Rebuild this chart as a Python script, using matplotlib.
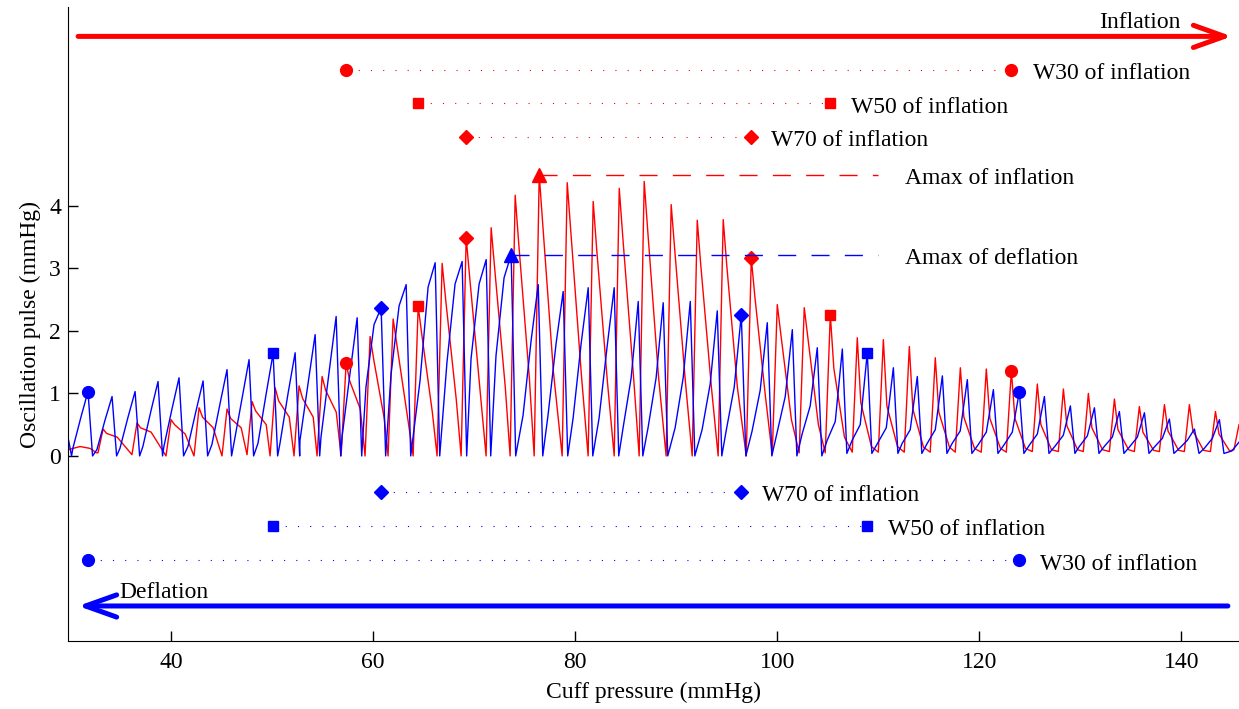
import matplotlib
matplotlib.use('Agg')
import matplotlib.pyplot as plt

plt.rcParams['font.family'] = ['Liberation Serif', 'DejaVu Serif']
plt.rcParams['font.size'] = 17

RED = '#ff0000'
BLUE = '#0000ff'

# ---- inflation (red) beats: peak position / height + shape levels ----
red_peak_x = [33.27, 36.63, 40.00, 42.77, 45.54, 48.02, 50.30, 52.67, 54.95, 57.33,
              59.70, 61.98, 64.46, 66.83, 69.21, 71.68, 74.06, 76.44, 79.21, 81.78,
              84.36, 86.83, 89.50, 92.08, 94.65, 97.43, 100.00, 102.67, 105.25, 107.92,
              110.50, 113.07, 115.64, 118.12, 120.69, 123.17, 125.74, 128.32, 130.79, 133.37,
              135.84, 138.32, 140.79, 143.37]
red_peak_y = [0.43, 0.53, 0.58, 0.77, 0.75, 0.87, 1.09, 1.12, 1.27, 1.49,
              1.91, 2.19, 2.39, 3.08, 3.49, 3.65, 4.17, 4.50, 4.37, 4.07,
              4.28, 4.39, 4.02, 3.77, 3.78, 3.16, 2.42, 2.37, 2.26, 1.89,
              1.86, 1.75, 1.57, 1.41, 1.39, 1.36, 1.15, 1.07, 1.00, 0.91,
              0.79, 0.82, 0.82, 0.71]
# level shortly after the peak
red_shoulder = [0.36, 0.45, 0.50, 0.62, 0.60, 0.72, 0.88, 0.92, 1.05, 1.20,
                1.55, 1.80, 1.95, 2.50, 2.85, 3.00, 3.40, 3.70, 3.60, 3.30,
                3.50, 3.60, 3.30, 3.05, 3.05, 2.55, 1.95, 1.90, 1.40, 0.85,
                0.80, 0.75, 0.70, 0.62, 0.60, 0.60, 0.50, 0.48, 0.45, 0.42,
                0.38, 0.40, 0.40, 0.35]
# level later in the decay
red_decay = [0.30, 0.38, 0.35, 0.45, 0.45, 0.50, 0.62, 0.62, 0.70, 0.75,
             0.60, 0.65, 0.70, 0.90, 1.00, 1.10, 1.25, 1.35, 1.30, 1.20,
             1.30, 1.30, 1.20, 1.10, 1.10, 0.95, 0.58, 0.50, 0.30, 0.15,
             0.15, 0.14, 0.14, 0.12, 0.12, 0.12, 0.10, 0.10, 0.10, 0.10,
             0.09, 0.09, 0.09, 0.08]
# level at the foot of the upstroke
red_foot = [0.05, 0.02, 0.00, 0.00, 0.00, 0.02, 0.00, 0.00, 0.00, 0.00,
            0.00, 0.00, 0.00, 0.00, 0.00, 0.00, 0.00, 0.00, 0.00, 0.00,
            0.00, 0.00, 0.00, 0.00, 0.00, 0.00, 0.02, 0.05, 0.05, 0.06,
            0.06, 0.06, 0.06, 0.06, 0.06, 0.06, 0.07, 0.07, 0.07, 0.07,
            0.07, 0.07, 0.07, 0.07]
red_lead_x = [29.8, 31.0, 32.0, 32.6]
red_lead_y = [0.10, 0.15, 0.12, 0.05]
red_trail_x = [145.2, 145.7]
red_trail_y = [0.10, 0.50]

# ---- deflation (blue) beats ----
blue_peak_x = [31.78, 34.16, 36.44, 38.71, 40.79, 43.17, 45.54, 47.72, 50.10, 52.28,
               54.26, 56.34, 58.42, 60.79, 63.27, 66.14, 68.81, 71.19, 73.66, 76.34,
               78.81, 81.29, 83.86, 86.24, 88.71, 91.39, 94.06, 96.44, 99.01, 101.49,
               103.96, 106.44, 108.91, 111.49, 113.86, 116.34, 118.81, 121.39, 123.96, 126.44,
               129.01, 131.39, 133.86, 136.34, 138.81, 141.29, 143.76]
blue_peak_y = [1.03, 0.95, 1.03, 1.19, 1.25, 1.20, 1.38, 1.54, 1.64, 1.65,
               1.94, 2.23, 2.21, 2.37, 2.74, 3.09, 3.11, 3.14, 3.22, 2.74,
               2.63, 2.69, 2.69, 2.47, 2.45, 2.47, 2.32, 2.26, 2.13, 2.02,
               1.73, 1.71, 1.65, 1.41, 1.27, 1.28, 1.22, 1.06, 1.03, 0.95,
               0.80, 0.77, 0.71, 0.69, 0.59, 0.43, 0.58]
# level just before the sharp upstroke
blue_shoulder = [0.62, 0.57, 0.62, 0.72, 0.75, 0.72, 0.83, 0.92, 0.98, 1.00,
                 1.16, 1.34, 1.33, 2.10, 2.40, 2.70, 2.75, 2.75, 2.85, 1.85,
                 1.80, 1.80, 1.75, 1.25, 1.25, 1.25, 1.15, 1.10, 1.05, 0.95,
                 0.80, 0.55, 0.50, 0.45, 0.42, 0.42, 0.40, 0.38, 0.38, 0.35,
                 0.33, 0.32, 0.30, 0.30, 0.28, 0.25, 0.28]
# level early in the slow ramp
blue_ramp = [0.12, 0.10, 0.12, 0.15, 0.15, 0.15, 0.18, 0.20, 0.20, 0.20,
             0.25, 0.30, 0.30, 1.10, 1.30, 1.20, 1.50, 1.55, 1.60, 0.65,
             0.65, 0.60, 0.60, 0.45, 0.45, 0.45, 0.42, 0.40, 0.40, 0.38,
             0.35, 0.25, 0.25, 0.22, 0.20, 0.20, 0.20, 0.18, 0.18, 0.17,
             0.16, 0.15, 0.15, 0.14, 0.14, 0.12, 0.12]
blue_trough = [0.0] * 31 + [0.04] * 16
blue_lead_x = [29.8, 30.15]
blue_lead_y = [0.30, 0.00]
blue_trail_x = [145.0, 145.7]
blue_trail_y = [0.08, 0.22]

# beat indices of the marked points
red_w30 = (9, 35)
red_w50 = (12, 28)
red_w70 = (14, 25)
red_amax = 17
blue_w30 = (0, 38)
blue_w50 = (8, 32)
blue_w70 = (13, 27)
blue_amax = 18

# rows of the annotation lines
red_rows = {'W30': 6.17, 'W50': 5.64, 'W70': 5.10}
blue_rows = {'W70': -0.58, 'W50': -1.12, 'W30': -1.67}
red_text_x = {'W30': 125.35, 'W50': 107.33, 'W70': 99.41}
blue_text_x = {'W70': 98.5, 'W50': 111.0, 'W30': 126.04}
amax_end_x = 110.0
amax_text_x = 112.67
text_drop = 0.06


def build_red():
    xs, ys = list(red_lead_x), list(red_lead_y)
    for i in range(len(red_peak_x)):
        p = red_peak_x[i]
        xs += [p - 0.5, p, p + 0.35, p + 1.4]
        ys += [red_foot[i], red_peak_y[i], red_shoulder[i], red_decay[i]]
    return xs + red_trail_x, ys + red_trail_y


def build_blue():
    xs, ys = list(blue_lead_x), list(blue_lead_y)
    for i in range(len(blue_peak_x)):
        p = blue_peak_x[i]
        xs += [p - 1.5, p - 0.7, p, p + 0.45]
        ys += [blue_ramp[i], blue_shoulder[i], blue_peak_y[i], blue_trough[i]]
    return xs + blue_trail_x, ys + blue_trail_y


fig = plt.figure(figsize=(12.39, 7.09), dpi=100)
ax = fig.add_axes([68 / 1239, 68 / 709, 1 - 68 / 1239, (641 - 7) / 709])

rx, ry = build_red()
bx, by = build_blue()
ax.plot(rx, ry, color=RED, lw=1.0)
ax.plot(bx, by, color=BLUE, lw=1.0)

dots = (0, (1, 10))
marks = {'W30': ('o', 8.5), 'W50': ('s', 7.5), 'W70': ('D', 7)}

# inflation markers and rows
for key, idx in (('W30', red_w30), ('W50', red_w50), ('W70', red_w70)):
    m, ms = marks[key]
    xl, xr = red_peak_x[idx[0]], red_peak_x[idx[1]]
    row = red_rows[key]
    ax.plot([xl, xr], [row, row], ls=dots, lw=0.8, color=RED)
    ax.plot([xl, xr], [row, row], ls='none', marker=m, ms=ms, color=RED)
    ax.plot([xl, xr], [red_peak_y[idx[0]], red_peak_y[idx[1]]], ls='none',
            marker=m, ms=ms, color=RED)
    ax.text(red_text_x[key], row - text_drop, key + ' of inflation', va='center', ha='left')

for key, idx in (('W30', blue_w30), ('W50', blue_w50), ('W70', blue_w70)):
    m, ms = marks[key]
    xl, xr = blue_peak_x[idx[0]], blue_peak_x[idx[1]]
    row = blue_rows[key]
    ax.plot([xl, xr], [row, row], ls=dots, lw=0.8, color=BLUE)
    ax.plot([xl, xr], [row, row], ls='none', marker=m, ms=ms, color=BLUE)
    ax.plot([xl, xr], [blue_peak_y[idx[0]], blue_peak_y[idx[1]]], ls='none',
            marker=m, ms=ms, color=BLUE)
    ax.text(blue_text_x[key], row - text_drop, key + ' of inflation', va='center', ha='left')

# Amax lines
ra = red_peak_y[red_amax]
ax.plot([red_peak_x[red_amax], amax_end_x], [ra, ra], ls=(0, (13, 11)), lw=1, color=RED)
ax.plot(red_peak_x[red_amax], ra, marker='^', ms=10, color=RED)
ax.text(amax_text_x, ra - text_drop, 'Amax of inflation', va='center', ha='left')

ba = blue_peak_y[blue_amax]
ax.plot([blue_peak_x[blue_amax], amax_end_x], [ba, ba], ls=(0, (13, 11)), lw=1, color=BLUE)
ax.plot(blue_peak_x[blue_amax], ba, marker='^', ms=10, color=BLUE)
ax.text(amax_text_x, ba - text_drop, 'Amax of deflation', va='center', ha='left')

# direction arrows
ax.annotate('', xy=(145.0, 6.71), xytext=(30.8, 6.71),
            arrowprops=dict(arrowstyle='->,head_length=1.4,head_width=0.5',
                            mutation_scale=16, lw=3.6, color=RED,
                            shrinkA=0, shrinkB=0))
ax.text(139.9, 6.93, 'Inflation', ha='right', va='center')
ax.annotate('', xy=(30.8, -2.40), xytext=(144.6, -2.40),
            arrowprops=dict(arrowstyle='->,head_length=1.4,head_width=0.5',
                            mutation_scale=16, lw=3.6, color=BLUE,
                            shrinkA=0, shrinkB=0))
ax.text(34.85, -2.19, 'Deflation', ha='left', va='center')

ax.set_xlim(29.8, 145.7)
ax.set_ylim(-2.96, 7.18)
ax.set_xticks([40, 60, 80, 100, 120, 140])
ax.set_yticks([0, 1, 2, 3, 4])
ax.tick_params(direction='in', length=7, width=1, labelsize=17)
ax.tick_params(axis='x', pad=8)
ax.tick_params(axis='y', pad=5)
ax.spines['top'].set_visible(False)
ax.spines['right'].set_visible(False)
ax.set_xlabel('Cuff pressure (mmHg)', fontsize=17, labelpad=6)
ax.set_ylabel('Oscillation pulse (mmHg)', fontsize=17, labelpad=6)

fig.savefig('out.png', dpi=100)
